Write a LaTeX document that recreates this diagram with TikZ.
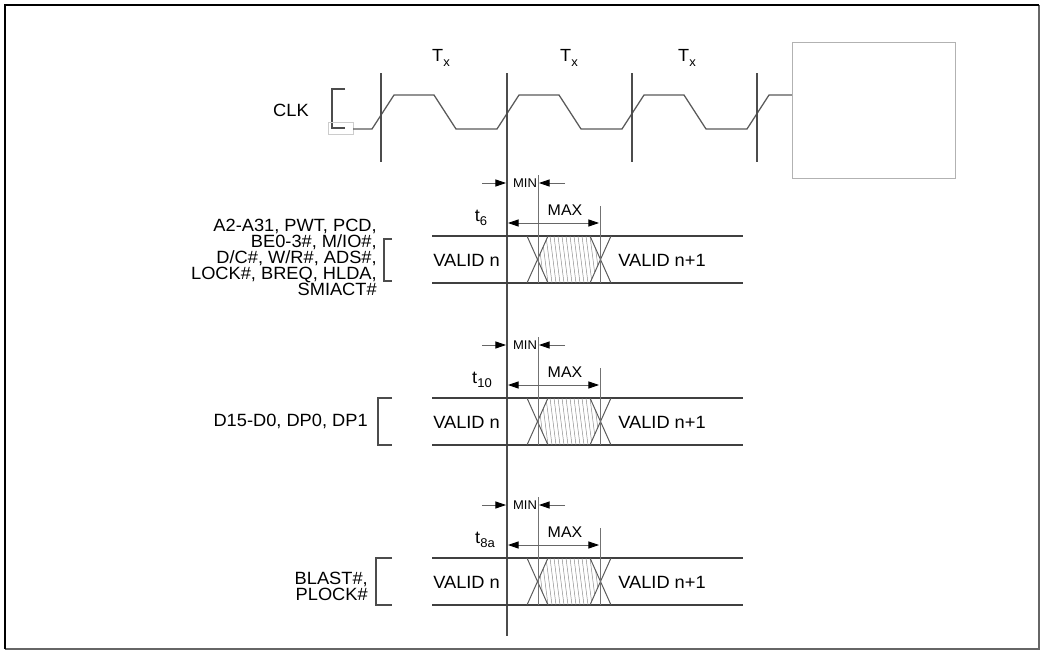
\documentclass[tikz,border=0pt]{standalone}
\usepackage{fontspec}
\setmainfont[FakeStretch=1.03]{Liberation Sans}
\usetikzlibrary{arrows.meta}

\newcommand{\lowsub}[1]{\raisebox{-0.45ex}{\fontsize{9}{9}\selectfont #1}}

\tikzset{
  sig/.style={draw=black!75, line width=0.9pt},
  edge/.style={draw=black!70, line width=0.8pt},
  cross/.style={draw=black!65, line width=0.7pt},
  hatch/.style={draw=black!45, line width=0.35pt},
  mark line/.style={draw=black!55, line width=0.7pt},
  dimarrow/.style={draw=black!60, line width=0.6pt, -{Triangle[length=7.5pt,width=5pt,color=black]}},
  dimboth/.style={draw=black!60, line width=0.6pt, {Triangle[length=7.5pt,width=5pt,color=black]}-{Triangle[length=7.5pt,width=5pt,color=black]}},
  lab/.style={inner sep=0pt, font=\fontsize{12.6}{11.4}\selectfont},
  tlab/.style={inner sep=0pt, font=\fontsize{12.5}{12}\selectfont},
  small/.style={inner sep=0pt, font=\fontsize{9}{9}\selectfont},
  mid/.style={inner sep=0pt, font=\fontsize{11}{11}\selectfont},
}

\begin{document}
\begin{tikzpicture}[x=0.025cm, y=-0.025cm]
    \useasboundingbox (0,0) rectangle (1041,651);

    % Frame
    \draw[black!60, line width=1.2pt] (1039,5) -- (1039,649) -- (5,649);
    \draw[black, line width=1.6pt] (5,649) -- (5,5) -- (1039,5);

    % Clock
    \node[lab, anchor=east] (clk) at (309,110) {CLK};
    \draw[edge] (345,89) -- (332,89) -- (332,128) -- (345,128);
    \draw[black!20, line width=0.5pt] (328,122) rectangle (353,134);
    \draw[sig, black!65] (353,129) -- (372,129) -- (394,95) -- (434,95) -- (456,129)
        -- (497,129) -- (519,95) -- (559,95) -- (581,129)
        -- (622,129) -- (644,95) -- (684,95) -- (706,129)
        -- (747,129) -- (769,95) -- (792,95);
    \draw[black!30, line width=0.6pt] (792,42) rectangle (955,178);

    % Clock edges
    \foreach \x in {381,632,757}
        \draw[edge] (\x,73) -- (\x,162);
    \draw[edge] (507,73) -- (507,636);

    % Periods
    \node[tlab] (tx1) at (441,58) {T\lowsub{x}};
    \node[tlab] (tx2) at (569,58) {T\lowsub{x}};
    \node[tlab] (tx3) at (687,58) {T\lowsub{x}};

    % Signal groups
    \foreach \B/\tx/\tname in {236/481/6, 398/482/10, 558/485/8a} {
        % bus
        \draw[sig] (432,\B) -- (743,\B);
        \draw[sig] (432,\B+47) -- (743,\B+47);
        \begin{scope}
            \clip (538,\B+23.5) -- (548,\B) -- (590,\B) -- (600,\B+23.5) -- (590,\B+47) -- (548,\B+47) -- cycle;
            \foreach \h in {530,534,...,604}
                \draw[hatch] (\h,\B) -- (\h+6,\B+47);
        \end{scope}
        \draw[cross] (527,\B) -- (548,\B+47);
        \draw[cross] (548,\B) -- (527,\B+47);
        \draw[cross] (590,\B) -- (611,\B+47);
        \draw[cross] (611,\B) -- (590,\B+47);
        \node[lab, anchor=west] at (433,\B+24) {VALID n};
        \node[lab, anchor=west] at (618,\B+24) {VALID n+1};
        % min
        \draw[mark line] (538,\B-61) -- (538,\B+47);
        \draw[dimarrow] (482,\B-53) -- (506,\B-53);
        \node[small] at (525,\B-53) {MIN};
        \draw[dimarrow] (565,\B-53) -- (539,\B-53);
        % max
        \draw[mark line] (600,\B-30) -- (600,\B+47);
        \node[mid] at (565,\B-26) {MAX};
        \draw[dimboth] (508,\B-13) -- (599,\B-13);
        \node[tlab] at (\tx,\B-18) {t\lowsub{\tname}};
    }

    % Labels
    \node[lab, anchor=east, align=right] (addr) at (377,257)
        {A2-A31, PWT, PCD,\\BE0-3\#, M/IO\#,\\D/C\#, W/R\#, ADS\#,\\LOCK\#, BREQ, HLDA,\\SMIACT\#};
    \draw[edge] (392,239) -- (384,239) -- (384,281) -- (392,281);

    \node[lab, anchor=east] (data) at (368,421) {D15-D0, DP0, DP1};
    \draw[edge] (392,398) -- (378,398) -- (378,445) -- (392,445);

    \node[lab, anchor=east, align=right] (blast) at (368,586) {BLAST\#,\\PLOCK\#};
    \draw[edge] (392,558) -- (376,558) -- (376,605) -- (392,605);
\end{tikzpicture}
\end{document}
